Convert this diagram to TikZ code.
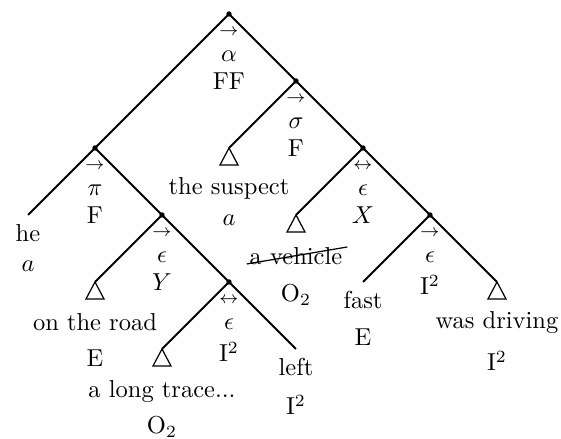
\documentclass[tikz,border=0pt]{standalone}
\usetikzlibrary{calc}
\newcommand\ilab[5]{%
  \node[lbl] (#1-a) at ($(#1)+(0,22)$) {$\scriptstyle#2$};
  \node[lbl] (#1-g) at ($(#1)+(0,48)$) {$#3$};
  \node[lbl] (#1-c) at ($(#1)+(0,#5)$) {#4};}
\newcommand\leaflab[6]{% coord, name, text, off1, category, off2
  \node[lbl] (#2) at ($(#1)+(0,#4)$) {#3};
  \node[lbl] (#2-c) at ($(#1)+(0,#6)$) {#5};}
\begin{document}
\begin{tikzpicture}[x=0.01435cm,y=-0.01435cm,
  edge/.style={line width=0.85pt},
  tri/.style={line width=0.5pt},
  lbl/.style={anchor=base,inner sep=0pt,outer sep=0pt},
  strike/.style={line width=0.5pt}]
\useasboundingbox (0,0) rectangle (561,439);
% tree points
\coordinate (R) at (229,14);
\coordinate (P) at (95,148);
\coordinate (S) at (296,81);
\coordinate (H) at (28,215);
\coordinate (Yn) at (162,215);
\coordinate (Road) at (95,282);
\coordinate (In) at (229,282);
\coordinate (Trace) at (162,349);
\coordinate (Left) at (296,349);
\coordinate (Susp) at (229,148);
\coordinate (Xn) at (363,148);
\coordinate (Veh) at (296,215);
\coordinate (Rn) at (430,215);
\coordinate (Fast) at (363,282);
\coordinate (Drive) at (497,282);
% edges
\draw[edge] (P) -- (R) -- (S);
\draw[edge] (H) -- (P) -- (Yn);
\draw[edge] (Road) -- (Yn) -- (In);
\draw[edge] (Trace) -- (In) -- (Left);
\draw[edge] (Susp) -- (S) -- (Xn);
\draw[edge] (Veh) -- (Xn) -- (Rn);
\draw[edge] (Fast) -- (Rn) -- (Drive);
% triangles
\foreach \t in {Road,Trace,Susp,Veh,Drive}
  \draw[tri] (\t) -- ++(-9,17) -- ++(18,0) -- cycle;
% dots
\foreach \d in {R,P,S,Yn,In,Xn,Rn}
  \fill (\d) circle (1.1pt);
% internal labels
\ilab{R}{\rightarrow}{\alpha}{FF}{76}
\ilab{S}{\rightarrow}{\sigma}{F}{76}
\ilab{P}{\rightarrow}{\pi}{F}{76}
\ilab{Xn}{\leftrightarrow}{\epsilon}{$X$}{76}
\ilab{Yn}{\rightarrow}{\epsilon}{$Y$}{76}
\ilab{In}{\leftrightarrow}{\epsilon}{I$^2$}{80}
\ilab{Rn}{\rightarrow}{\epsilon}{I$^2$}{80}
% leaves
\leaflab{H}{he}{he}{27}{$a$}{57}
\leaflab{Susp}{susp}{the suspect}{47}{$a$}{78}
\leaflab{Veh}{veh}{a vehicle}{50}{O$_2$}{87}
\leaflab{Road}{road}{on the road}{49}{E}{85}
\leaflab{Trace}{trace}{a long trace...}{49}{O$_2$}{85}
\leaflab{Left}{left}{left}{27}{I$^2$}{66}
\leaflab{Fast}{fast}{fast}{27}{E}{64}
\leaflab{Drive}{drive}{was driving}{47}{I$^2$}{89}
% strike-through
\coordinate (vs) at ($(veh.base west)+(-3,-1)$);
\coordinate (ve) at ($(veh.base east)+(5,-18)$);
\draw[strike] (vs) -- (ve);
\end{tikzpicture}
\end{document}
